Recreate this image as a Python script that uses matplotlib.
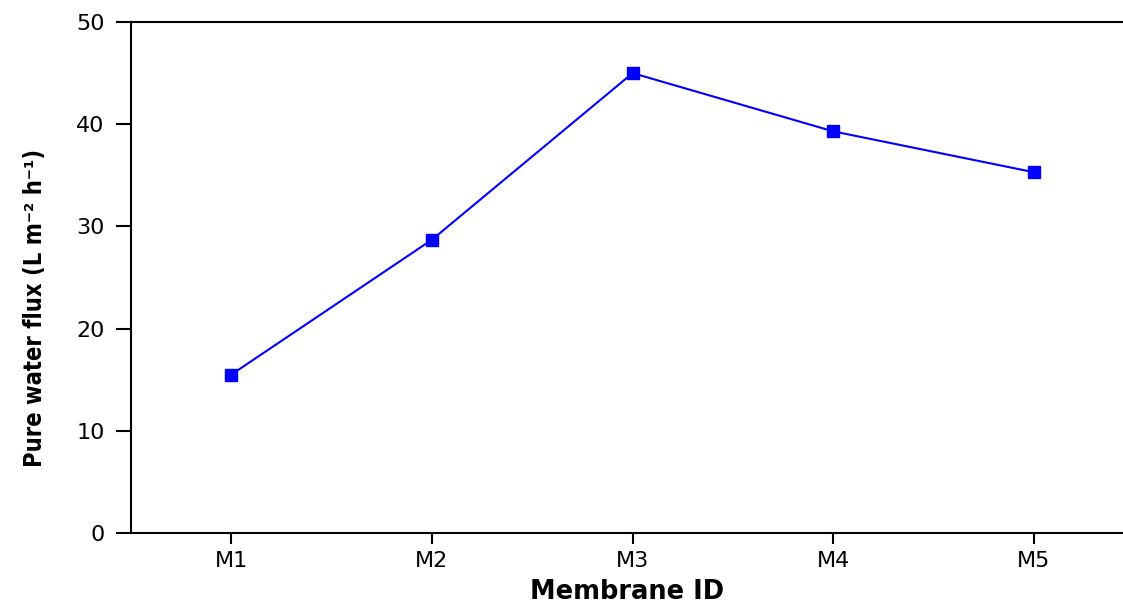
import matplotlib.pyplot as plt

# membrane pure water flux
membranes = ["M1", "M2", "M3", "M4", "M5"]
flux = [15.5, 28.7, 45.0, 39.3, 35.3]
yticks = [0, 10, 20, 30, 40, 50]

plt.rcParams["font.family"] = ["DejaVu Sans"]

fig = plt.figure(figsize=(11.23, 6.08), dpi=100)
ax = fig.add_axes([131 / 1123, 1 - 533 / 608, 1 - 131 / 1123, (533 - 22) / 608])

x = list(range(1, len(membranes) + 1))
ax.plot(x, flux, color="#0000ff", lw=1.5, marker="s", ms=8.5, mec="#0000ff", mfc="#0000ff")

ax.set_xlim(0.5, 5 + (1123 - 1034) / 200.5)
ax.set_ylim(0, 50)
ax.set_xticks(x)
ax.set_xticklabels(membranes)
ax.set_yticks(yticks)
ax.tick_params(axis="y", direction="out", length=11, width=1.5, labelsize=16, pad=8)
ax.tick_params(axis="x", direction="out", length=8, width=1.5, labelsize=16, pad=5)

for side in ["left", "bottom", "top"]:
    ax.spines[side].set_linewidth(1.5)
ax.spines["right"].set_visible(False)

ax.set_xlabel("Membrane ID", fontsize=18.5, fontweight="bold", labelpad=6)
ax.set_ylabel("Pure water flux (L m\u207b\u00b2 h\u207b\u00b9)", fontsize=17,
              fontweight="bold", fontstretch="condensed")
ax.yaxis.set_label_coords(-0.085, 0.44)

fig.savefig("out.png", dpi=100)
